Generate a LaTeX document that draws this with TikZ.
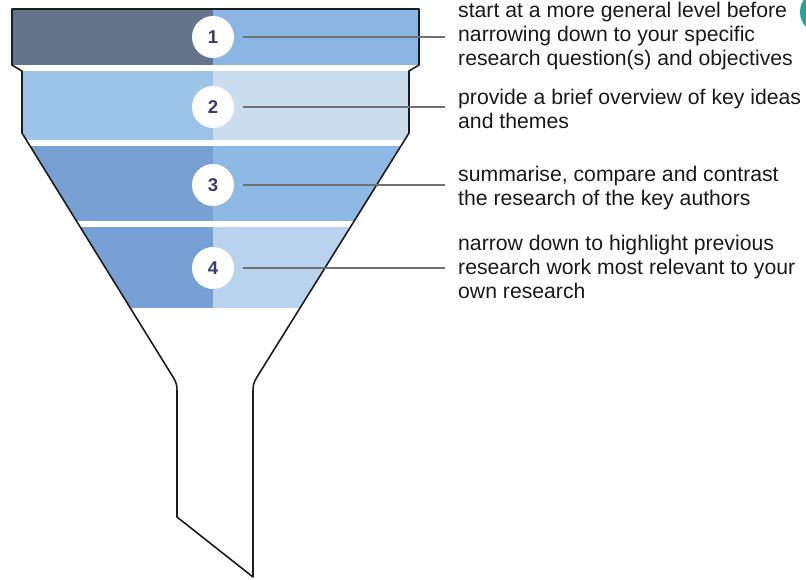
\documentclass[tikz,border=0pt]{standalone}
\usepackage{fontspec}
\setmainfont{Liberation Sans}
\usetikzlibrary{positioning}
\definecolor{outline}{RGB}{28,28,30}
\definecolor{bandAl}{RGB}{99,116,139}
\definecolor{bandAr}{RGB}{139,182,227}
\definecolor{bandBl}{RGB}{157,195,232}
\definecolor{bandBr}{RGB}{203,222,240}
\definecolor{bandCl}{RGB}{121,160,211}
\definecolor{bandCr}{RGB}{143,185,229}
\definecolor{bandDl}{RGB}{119,161,213}
\definecolor{bandDr}{RGB}{185,211,239}
\definecolor{numink}{RGB}{58,58,110}
\definecolor{leadgray}{RGB}{110,112,114}
\definecolor{badge}{RGB}{32,164,150}
\tikzset{
  funnel/.style={draw=outline, line width=1.6pt, line join=round},
  num/.style={circle, fill=white, minimum size=42pt, inner sep=0pt, outer sep=9pt,
    font=\bfseries\fontsize{18.5}{18.5}\selectfont, text=numink},
  lead/.style={draw=leadgray, line width=2.4pt},
  desc/.style={anchor=west, align=left, inner sep=0pt, text=black!90,
    font=\fontsize{21.2}{23.7}\selectfont}
}

\begin{document}
\begin{tikzpicture}[x=1pt,y=-1pt]
  \useasboundingbox (0,0) rectangle (806,579);
  \def\funnelpath{(12,9) -- (419,9) -- (419,65) -- (409,71) -- (409,133) -- (257,377)
    .. controls (253,384) .. (253,397) -- (253,577) -- (177,517) -- (177,397)
    .. controls (177,384) .. (173,377) -- (22,133) -- (22,71) -- (12,65) -- cycle}
  % coloured bands, two tones each, cut to the funnel
  \begin{scope}
    \clip \funnelpath;
    \foreach \top/\bot/\lc/\rc in {9/65/bandAl/bandAr, 71/140/bandBl/bandBr,
        146/221/bandCl/bandCr, 227/308/bandDl/bandDr}{
      \fill[\lc] (0,\top) rectangle (213,\bot);
      \fill[\rc] (213,\top) rectangle (430,\bot);
    }
  \end{scope}
  \draw[funnel] \funnelpath;
  % numbered markers and leader lines
  \foreach \i/\y in {1/37, 2/107, 3/185, 4/268}{
    \node[num] (c\i) at (213,\y) {\i};
    \coordinate (e\i) at (445,\y);
    \draw[lead] (c\i) -- (e\i);
  }
  \node[desc] (t1) at (458,36) {start at a more general level before\\narrowing down to your specific\\research question(s) and objectives};
  \node[desc] (t2) at (458,109) {provide a brief overview of key ideas\\and themes};
  \node[desc] (t3) at (458,188) {summarise, compare and contrast\\the research of the key authors};
  \node[desc] (t4) at (458,267) {narrow down to highlight previous\\research work most relevant to your\\own research};
  \fill[badge] (822,12) circle (22);
\end{tikzpicture}
\end{document}
